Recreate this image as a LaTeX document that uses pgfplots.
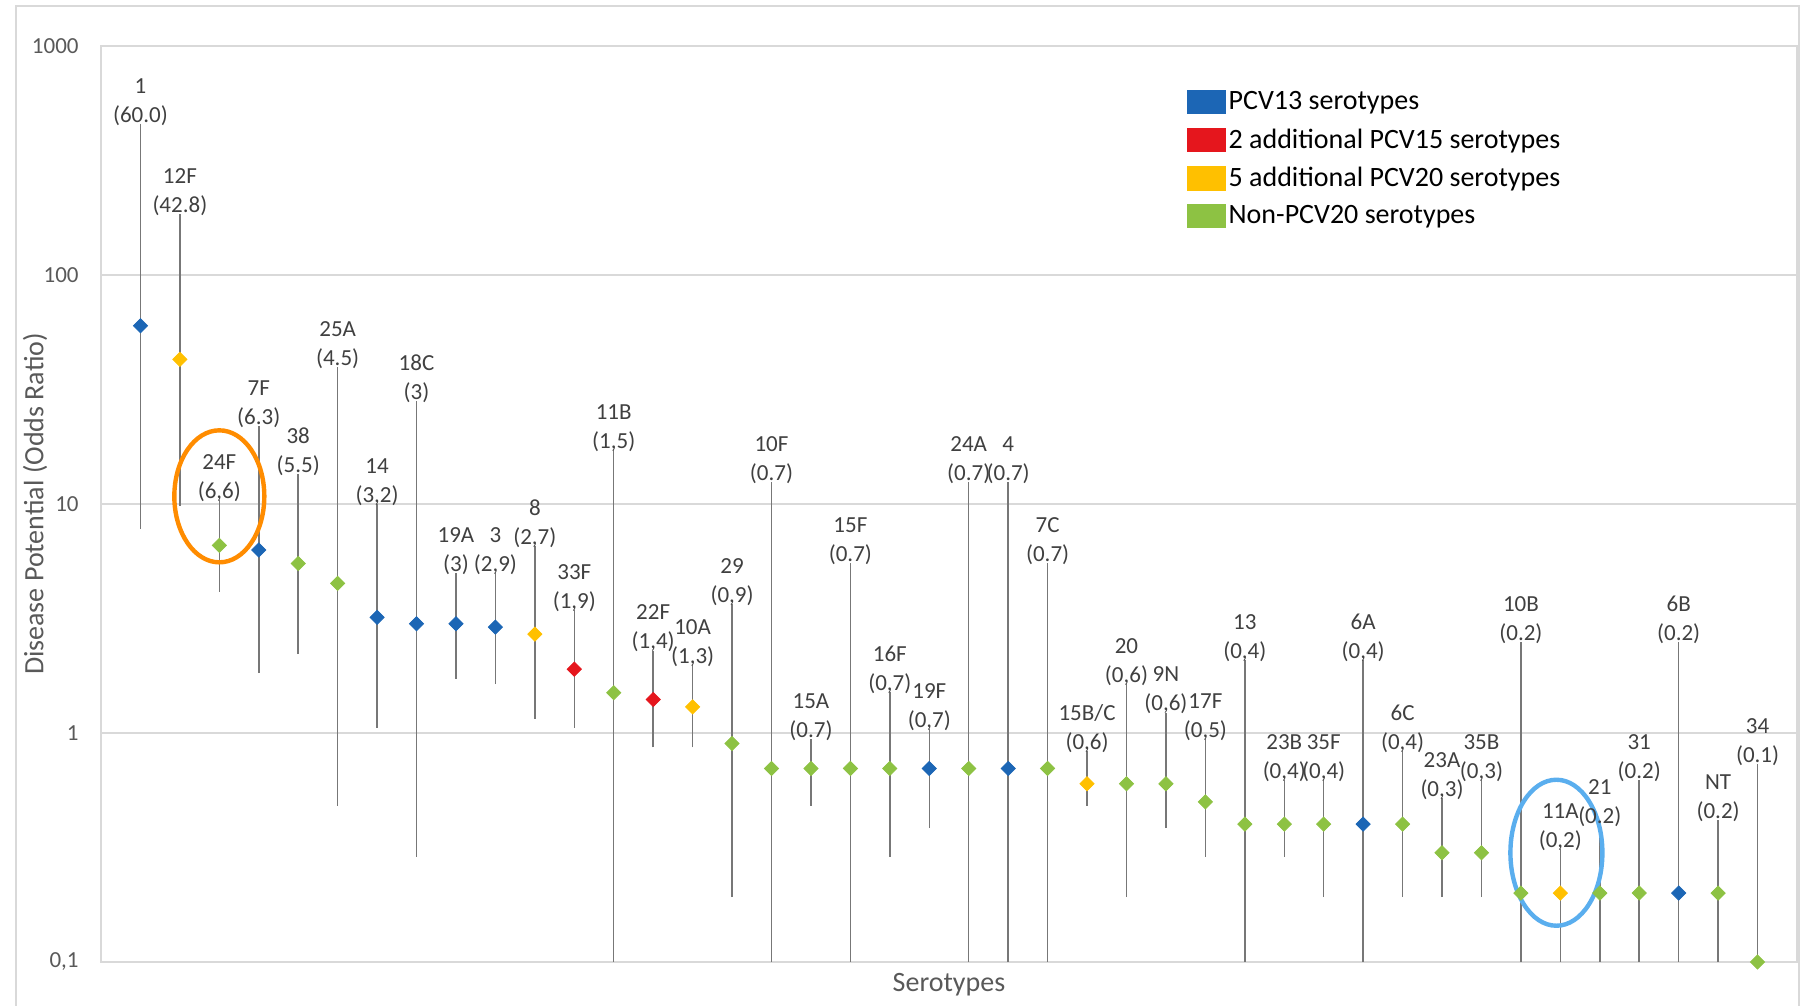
\documentclass[border=0pt]{standalone}
\usepackage{fontspec}
\setmainfont{Carlito}
\usepackage{pgfplots}
\usepackage{pgfplotstable}
\pgfplotsset{compat=1.18}
\definecolor{pcvblue}{HTML}{1C66B5}
\definecolor{pcvred}{HTML}{E5161D}
\definecolor{pcvyellow}{HTML}{FFC000}
\definecolor{pcvgreen}{HTML}{8DC243}
\definecolor{gridgray}{HTML}{D9D9D9}
\definecolor{whisk}{HTML}{777777}
\definecolor{labgray}{HTML}{404040}
\definecolor{tickgray}{HTML}{595959}
\definecolor{ringorange}{HTML}{FF8C00}
\definecolor{ringblue}{HTML}{5AAEEE}

% PCV13 serotypes
\pgfplotstableread{
x y up lo
0 60.0 440 8.1
3 6.3 21 1.9
6 3.2 9.6 1.1
7 3.0 27 0.3
8 3.0 4.8 1.8
9 2.9 4.8 1.7
20 0.7 1.0 0.4
22 0.7 12 0.1
31 0.4 2.0 0.1
39 0.2 2.4 0.1
}\pcvA
% 2 additional PCV15 serotypes
\pgfplotstableread{
x y up lo
11 1.9 3.3 1.1
13 1.4 2.2 0.9
}\pcvB
% 5 additional PCV20 serotypes
\pgfplotstableread{
x y up lo
1 42.8 177 10.2
10 2.7 6.3 1.2
14 1.3 1.9 0.9
24 0.6 0.8 0.5
36 0.2 0.3 0.1
}\pcvC
% Non-PCV20 serotypes
\pgfplotstableread{
x y up lo
2 6.6 10.0 4.3
4 5.5 13 2.3
5 4.5 38 0.5
12 1.5 16.5 0.1
15 0.9 3.5 0.2
16 0.7 12 0.1
17 0.7 0.9 0.5
18 0.7 5.3 0.1
19 0.7 1.45 0.3
21 0.7 12 0.1
23 0.7 5.3 0.1
25 0.6 1.57 0.2
26 0.6 1.18 0.4
27 0.5 0.9 0.3
28 0.4 2.0 0.1
29 0.4 0.6 0.3
30 0.4 0.6 0.2
32 0.4 0.8 0.2
33 0.3 0.5 0.2
34 0.3 0.6 0.2
35 0.2 2.4 0.1
37 0.2 0.38 0.1
38 0.2 0.6 0.1
40 0.2 0.4 0.1
41 0.1 0.7 0.1
}\pcvD
% labels: serotype|odds ratio
\pgfplotstableread{
x up lab
0 440 1|60.0
1 177 12F|42.8
2 10.0 24F|6,6
3 21 7F|6.3
4 13 38|5.5
5 38 25A|4.5
6 9.6 14|3,2
7 27 18C|3
8 4.8 19A|3
9 4.8 3|2,9
10 6.3 8|2,7
11 3.3 33F|1,9
12 16.5 11B|1,5
13 2.2 22F|1,4
14 1.9 10A|1,3
15 3.5 29|0,9
16 12 10F|0.7
17 0.9 15A|0.7
18 5.3 15F|0.7
19 1.45 16F|0,7
20 1.0 19F|0,7
21 12 24A|0.7
22 12 4|0.7
23 5.3 7C|0.7
24 0.8 15B/C|0,6
25 1.57 20|0,6
26 1.18 9N|0,6
27 0.9 17F|0,5
28 2.0 13|0,4
29 0.6 23B|0,4
30 0.6 35F|0,4
31 2.0 6A|0,4
32 0.8 6C|0,4
33 0.5 23A|0,3
34 0.6 35B|0,3
35 2.4 10B|0.2
36 0.3 11A|0,2
37 0.38 21|0.2
38 0.6 31|0.2
39 2.4 6B|0.2
40 0.4 NT|0.2
41 0.7 34|0.1
}\labs

\def\splitlab#1|#2\relax{#1\\(#2)}

\pgfplotsset{
  ser/.style={only marks, mark=square*, mark size=2.5pt, color=#1,
    mark options={rotate=45, draw=#1, fill=#1},
    error bars/.cd, y dir=both, y explicit,
    error bar style={whisk, line width=0.75pt},
    error mark options={whisk, line width=0.75pt, mark size=2pt}},
}

\begin{document}
\begin{tikzpicture}
\useasboundingbox (-50.5pt,-22pt) rectangle (852.5pt,481pt);
\draw[gridgray, line width=0.8pt] (-42.5pt,-40pt) -- (-42.5pt,478pt) -- (849pt,478pt) -- (849pt,-40pt);
\begin{axis}[
  at={(0,0)}, anchor=south west,
  scale only axis, width=848pt, height=458pt,
  ymode=log, ymin=0.1, ymax=1000, xmin=-1, xmax=42,
  xtick=\empty,
  ytick={0.1,1,10,100,1000}, yticklabels={{0,1},1,10,100,1000},
  /pgf/number format/assume math mode=true,
  tick style={draw=none},
  ymajorgrids, grid style={gridgray, line width=0.6pt},
  axis line style={gridgray, line width=0.6pt},
  yticklabel style={font=\fontsize{11.5}{13}\selectfont, text=tickgray, inner sep=0pt, xshift=-11pt},
  xlabel={Serotypes}, ylabel={Disease Potential (Odds Ratio)},
  every axis x label/.style={at={(axis description cs:0.5,-0.0245)}, anchor=center, font=\fontsize{14}{16}\selectfont, text=tickgray},
  every axis y label/.style={at={(axis description cs:-0.0389,0.5)}, rotate=90, anchor=center, font=\fontsize{14}{16}\selectfont, text=tickgray},
  legend style={at={(0.640,0.954)}, anchor=north west, draw=none, fill=none,
    font=\fontsize{14}{16}\selectfont, text=black, row sep=5pt, inner sep=0pt,
    nodes={inner sep=1.5pt}},
  legend cell align=left,
  legend image code/.code={\fill (0pt,-5.8pt) rectangle (19pt,5.8pt);},
]
\addplot+[ser=pcvblue] table[x=x, y=y, y error plus expr=\thisrow{up}-\thisrow{y}, y error minus expr=\thisrow{y}-\thisrow{lo}] {\pcvA};
\addlegendentry{PCV13 serotypes}
\addplot+[ser=pcvred] table[x=x, y=y, y error plus expr=\thisrow{up}-\thisrow{y}, y error minus expr=\thisrow{y}-\thisrow{lo}] {\pcvB};
\addlegendentry{2 additional PCV15 serotypes}
\addplot+[ser=pcvyellow] table[x=x, y=y, y error plus expr=\thisrow{up}-\thisrow{y}, y error minus expr=\thisrow{y}-\thisrow{lo}] {\pcvC};
\addlegendentry{5 additional PCV20 serotypes}
\addplot+[ser=pcvgreen] table[x=x, y=y, y error plus expr=\thisrow{up}-\thisrow{y}, y error minus expr=\thisrow{y}-\thisrow{lo}] {\pcvD};
\addlegendentry{Non-PCV20 serotypes}
\addplot[draw=none, mark=none, forget plot,
  point meta=explicit symbolic,
  nodes near coords={\expandafter\splitlab\pgfplotspointmeta\relax},
  every node near coord/.append style={anchor=south, align=center, inner sep=1pt,
    font=\fontsize{11.5}{14.5}\selectfont, text=labgray}]
  table[x=x, y=up, meta=lab] {\labs};
\draw[ringorange, line width=2.2pt] (axis cs:2,10.8) ellipse [x radius=22.5pt, y radius=33pt];
\draw[ringblue, line width=2.2pt] (axis cs:35.9,0.30) ellipse [x radius=23pt, y radius=36.5pt];
\end{axis}
\end{tikzpicture}
\end{document}
